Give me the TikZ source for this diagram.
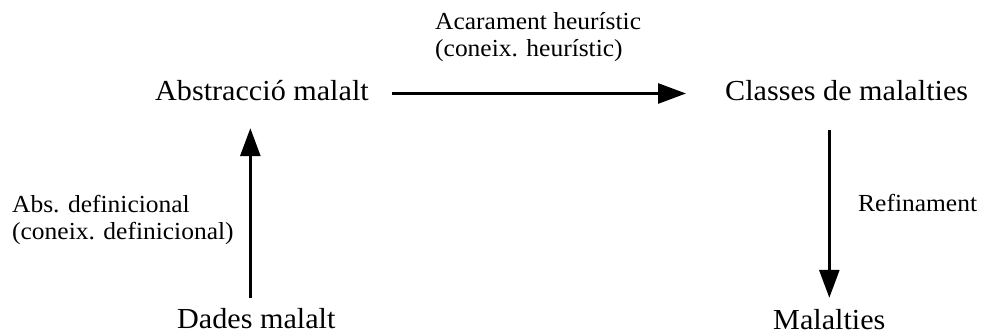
\documentclass[tikz,border=0pt]{standalone}
\usepackage{fontspec}
\setmainfont{Liberation Serif}[FakeStretch=1.04]
\usetikzlibrary{arrows.meta}

\begin{document}
\begin{tikzpicture}[
    x=1pt,
    y=-1pt,
    concept/.style={
        inner sep=0pt,
        anchor=base west,
        font=\fontsize{29}{34}\selectfont,
        text height=22pt,
        text depth=7pt
    },
    note/.style={
        inner sep=0pt,
        align=left,
        font=\fontsize{24.5}{27}\selectfont
    },
    arrow/.style={-{Triangle[length=28pt,width=20pt]}, line width=2.8pt}
]
\useasboundingbox (0,0) rectangle (987,336);

% ============================================================
% CONCEPTES
% ============================================================
\node[concept] (abstr) at (155,101) {Abstracció malalt};
\node[concept] (classes) at (725,101) {Classes de malalties};
\node[concept] (dades) at (177,328) {Dades malalt};
\node[concept] (malalties) at (773,330) {Malalties};

% ============================================================
% PASSOS D'INFERENCIA
% ============================================================
\draw[arrow, shorten <=23pt, shorten >=39pt] (abstr.east) -- (classes.west);
\draw[arrow, shorten <=8pt, shorten >=20pt]
    ([xshift=-6pt]dades.north) -- ([xshift=-6pt]dades.north |- abstr.south);
\draw[arrow, shorten <=22pt, shorten >=10pt]
    (classes.south -| malalties.north) -- (malalties.north);

% ============================================================
% ETIQUETES
% ============================================================
\node[note, anchor=north west] (heur) at (435,12)
    {Acarament heurístic\\(coneix. heurístic)};
\node[note, anchor=north west] (defin) at (12,195)
    {Abs. definicional\\(coneix. definicional)};
\node[note, anchor=base west] (refin) at (858,212) {Refinament};

\end{tikzpicture}
\end{document}
